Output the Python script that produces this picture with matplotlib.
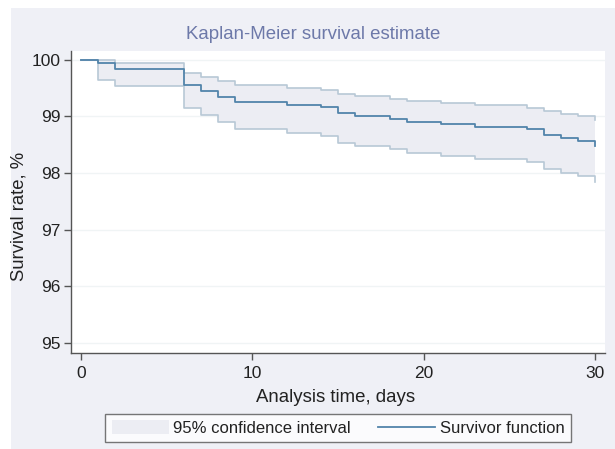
import matplotlib
matplotlib.use("Agg")
import matplotlib.pyplot as plt
from matplotlib.patches import Patch, Rectangle
from matplotlib.lines import Line2D

plt.rcParams['font.family'] = ['Liberation Sans', 'DejaVu Sans']

# Kaplan-Meier estimate (step changes, where='post')
days = [0, 1, 2, 6, 7, 8, 9, 12, 14, 15, 16, 18, 19, 21, 23, 26, 27, 28, 29, 30]
survival = [100, 99.95, 99.84, 99.55, 99.44, 99.35, 99.26, 99.21, 99.16, 99.06,
            99.01, 98.96, 98.91, 98.86, 98.81, 98.77, 98.67, 98.62, 98.57, 98.48]
ci_upper = [100, 100, 99.95, 99.77, 99.70, 99.62, 99.55, 99.50, 99.46, 99.40,
            99.36, 99.31, 99.27, 99.24, 99.20, 99.15, 99.09, 99.05, 99.01, 98.93]
ci_lower = [100, 99.64, 99.53, 99.14, 99.02, 98.90, 98.77, 98.71, 98.65, 98.53,
            98.48, 98.42, 98.36, 98.30, 98.25, 98.19, 98.08, 98.01, 97.95, 97.85]

xticks = [0, 10, 20, 30]
yticks = [95, 96, 97, 98, 99, 100]

bg = '#eff0f6'
line_col = '#5284aa'
ci_col = '#b8c8d6'
fill_col = '#ecedf3'
dark = '#555555'
txt = '#222222'

fig = plt.figure(figsize=(6.15, 4.49), dpi=100, facecolor='white')
# grey panel (image has a thin white margin on the left and top)
fig.patches.append(Rectangle((11/615, 0), 1 - 11/615, 1 - 8/449,
                             transform=fig.transFigure, facecolor=bg,
                             edgecolor='none', zorder=-1))

ax = fig.add_axes([71/615, 1 - 352.7/449, (605 - 71)/615, (352.7 - 50.7)/449])
ax.set_facecolor('white')

ax.fill_between(days, ci_lower, ci_upper, step='post', color=fill_col, lw=0, zorder=1)
ax.step(days, ci_upper, where='post', color=ci_col, lw=1.2, zorder=2)
ax.step(days, ci_lower, where='post', color=ci_col, lw=1.2, zorder=2)
ax.step(days, survival, where='post', color=line_col, lw=1.3, zorder=3)

ax.set_xlim(-0.58, 30.57)
ax.set_ylim(94.83, 100.16)
ax.set_xticks(xticks)
ax.set_yticks(yticks)
ax.yaxis.grid(True, color='#f0f4f5', lw=1)
ax.set_axisbelow(True)

for s in ['top', 'right']:
    ax.spines[s].set_visible(False)
for s in ['left', 'bottom']:
    ax.spines[s].set_color(dark)
    ax.spines[s].set_linewidth(1)

ax.tick_params(axis='both', colors=dark, labelcolor=txt, labelsize=12.5,
               length=5, width=1)
ax.tick_params(axis='y', pad=2.4)
ax.tick_params(axis='x', pad=4.3)

fig.text(313/615, 1 - 39/449, 'Kaplan-Meier survival estimate', ha='center',
         va='baseline', fontsize=13.4, color='#6d79a9')
fig.text(23.3/615, 1 - 216/449, 'Survival rate, %', rotation=90,
         rotation_mode='anchor', ha='center', va='baseline',
         fontsize=13.3, color=txt)
fig.text(336/615, 1 - 401.7/449, 'Analysis time, days', ha='center',
         va='baseline', fontsize=13.4, color=txt)

handles = [Patch(facecolor=fill_col, edgecolor='none'),
           Line2D([], [], color=line_col, lw=1.3)]
labels = ['95% confidence interval', 'Survivor function']
leg = fig.legend(handles, labels, ncol=2, loc='center',
                 bbox_to_anchor=(338/615, 1 - 428/449), fontsize=12,
                 frameon=True, fancybox=False, handlelength=3.46,
                 handleheight=0.94, handletextpad=0.25, columnspacing=1.6,
                 borderpad=0.38)
leg.get_frame().set_edgecolor(dark)
leg.get_frame().set_linewidth(1)
leg.get_frame().set_facecolor('white')
for t in leg.get_texts():
    t.set_color(txt)

fig.savefig('out.png', dpi=100, facecolor=fig.get_facecolor())
